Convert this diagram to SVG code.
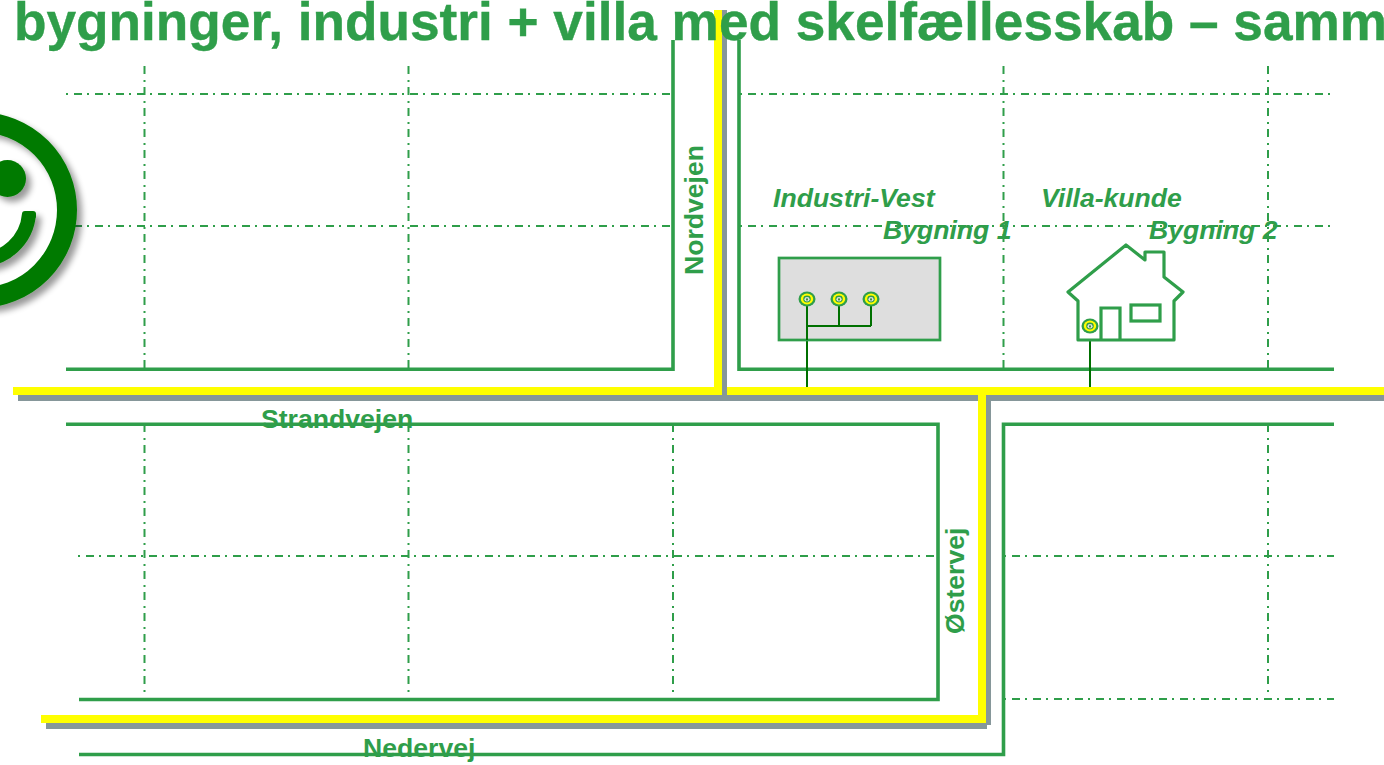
<svg xmlns="http://www.w3.org/2000/svg" width="1384" height="765" viewBox="0 0 1384 765">
<style>
text{font-family:"Liberation Sans",Arial,sans-serif;font-weight:bold;fill:#2f9e4a}
.t{stroke:#2f9e4a;stroke-width:.4}
.it{font-style:italic;font-size:26.600px}
.rd{font-size:26.600px}
.gh{fill:none;stroke:#2f9e4a;stroke-width:2;stroke-dasharray:2 6 8 5}
.gv{fill:none;stroke:#2f9e4a;stroke-width:2;stroke-dasharray:8 6 2 5}
.s{fill:none;stroke:#2f9e4a;stroke-width:3.600}
.w{fill:none;stroke:#007000;stroke-width:2}
.y{fill:#ffff00}
.k{fill:#86979a}
</style>
<defs>
<filter id="sh" x="-20%" y="-20%" width="150%" height="150%"><feGaussianBlur in="SourceAlpha" stdDeviation="3"/><feOffset dx="5" dy="5"/><feComponentTransfer><feFuncA type="linear" slope="0.4"/></feComponentTransfer><feMerge><feMergeNode/><feMergeNode in="SourceGraphic"/></feMerge></filter>
<g id="o"><ellipse rx="8.500" ry="7.500" fill="#2f9e4a"/><ellipse rx="6.200" ry="5.400" fill="#ffff00"/><ellipse rx="3.800" ry="3.400" fill="#2f9e4a"/><ellipse rx="2.600" ry="2.200" cy="0.300" fill="#dedede"/><rect x="-.7" y="-.6" width="1.400" height="2" fill="#007000"/></g>
</defs>
<g id="connectors">
<g id="grid">
<path class="gh" d="M66 94H672M740 94H1334M66 226H672M740 226H1334M78 556H938M1004 556H1334M1004 699H1334"/>
<path class="gv" d="M144.500 66V369M408.500 66V369M1003.500 66V369M1268 66V369M144.500 424V693M408.500 424V693M673 424V693M1268 424V693"/>
</g>
<g id="roads">
<path class="s" d="M66 369.300H673V40"/>
<path class="s" d="M739 40V369.300H1334"/>
<path class="s" d="M66 424.300H938V699.500H79"/>
<path class="s" d="M1334 424.300H1003.500V754.500H79"/>
</g>
<g id="cables">
<rect class="k" x="722" y="10" width="5" height="385"/>
<rect class="k" x="18" y="395" width="1366" height="6"/>
<path class="k" d="M719 391H727V395H719Z"/>
<path class="k" d="M986 395H991V725H987V729H46V723H986Z"/>
<path class="y" d="M714 10H722V395H13V387H714Z"/>
<path class="y" d="M727 387H1384V395H986V723H41V715H978V395H727Z"/>
</g>
<path class="w" d="M807 306V387M1090 333V387"/>
</g>
<g id="title"><text class="t" x="14" y="40" font-size="53.200">bygninger, industri + villa med skelfællesskab – samm</text></g>
<g id="smiley" filter="url(#sh)">
<circle cx="-21" cy="210" r="88" fill="none" stroke="#007a00" stroke-width="20"/>
<circle cx="7.500" cy="178.500" r="18.500" fill="#007a00"/>
<path d="M29 214A50 50 0 0 1 -21 260" fill="none" stroke="#007a00" stroke-width="14"/>
<rect x="22" y="211" width="14" height="8" rx="3" fill="#007a00"/>
</g>
<g id="label-nordvejen"><text class="rd" transform="translate(703 275) rotate(-90)">Nordvejen</text></g>
<g id="label-strandvejen"><text class="rd" x="261" y="428">Strandvejen</text></g>
<g id="label-ostervej"><text class="rd" transform="translate(964 634) rotate(-90)">Østervej</text></g>
<g id="label-nedervej"><text class="rd" x="363" y="757">Nedervej</text></g>
<g id="bygning-1">
<rect x="779" y="258" width="161" height="82" fill="#dedede" stroke="#2f9e4a" stroke-width="2.700"/>
<path class="w" d="M807 306V340M839 306V326M871 306V326M807 326H871"/>
<use href="#o" x="807" y="299"/><use href="#o" x="839" y="299"/><use href="#o" x="871" y="299"/>
<text class="it" x="773" y="207">Industri-Vest</text>
<text class="it" x="883" y="239">Bygning 1</text>
</g>
<g id="bygning-2">
<path d="M1126 245L1068 292L1078 301V340H1174V301L1183 292L1164 277V252H1145V260Z" fill="#fff" stroke="#2f9e4a" stroke-width="3.200" stroke-linejoin="round"/>
<path class="s" style="stroke-width:3.200" d="M1101 340V308H1120V340"/>
<rect x="1131" y="305" width="29" height="16" fill="none" stroke="#2f9e4a" stroke-width="3.200"/>
<use href="#o" x="1090" y="326"/>
<text class="it" x="1041" y="207">Villa-kunde</text>
<text class="it" x="1149" y="239">Bygning 2</text>
</g>
</svg>
